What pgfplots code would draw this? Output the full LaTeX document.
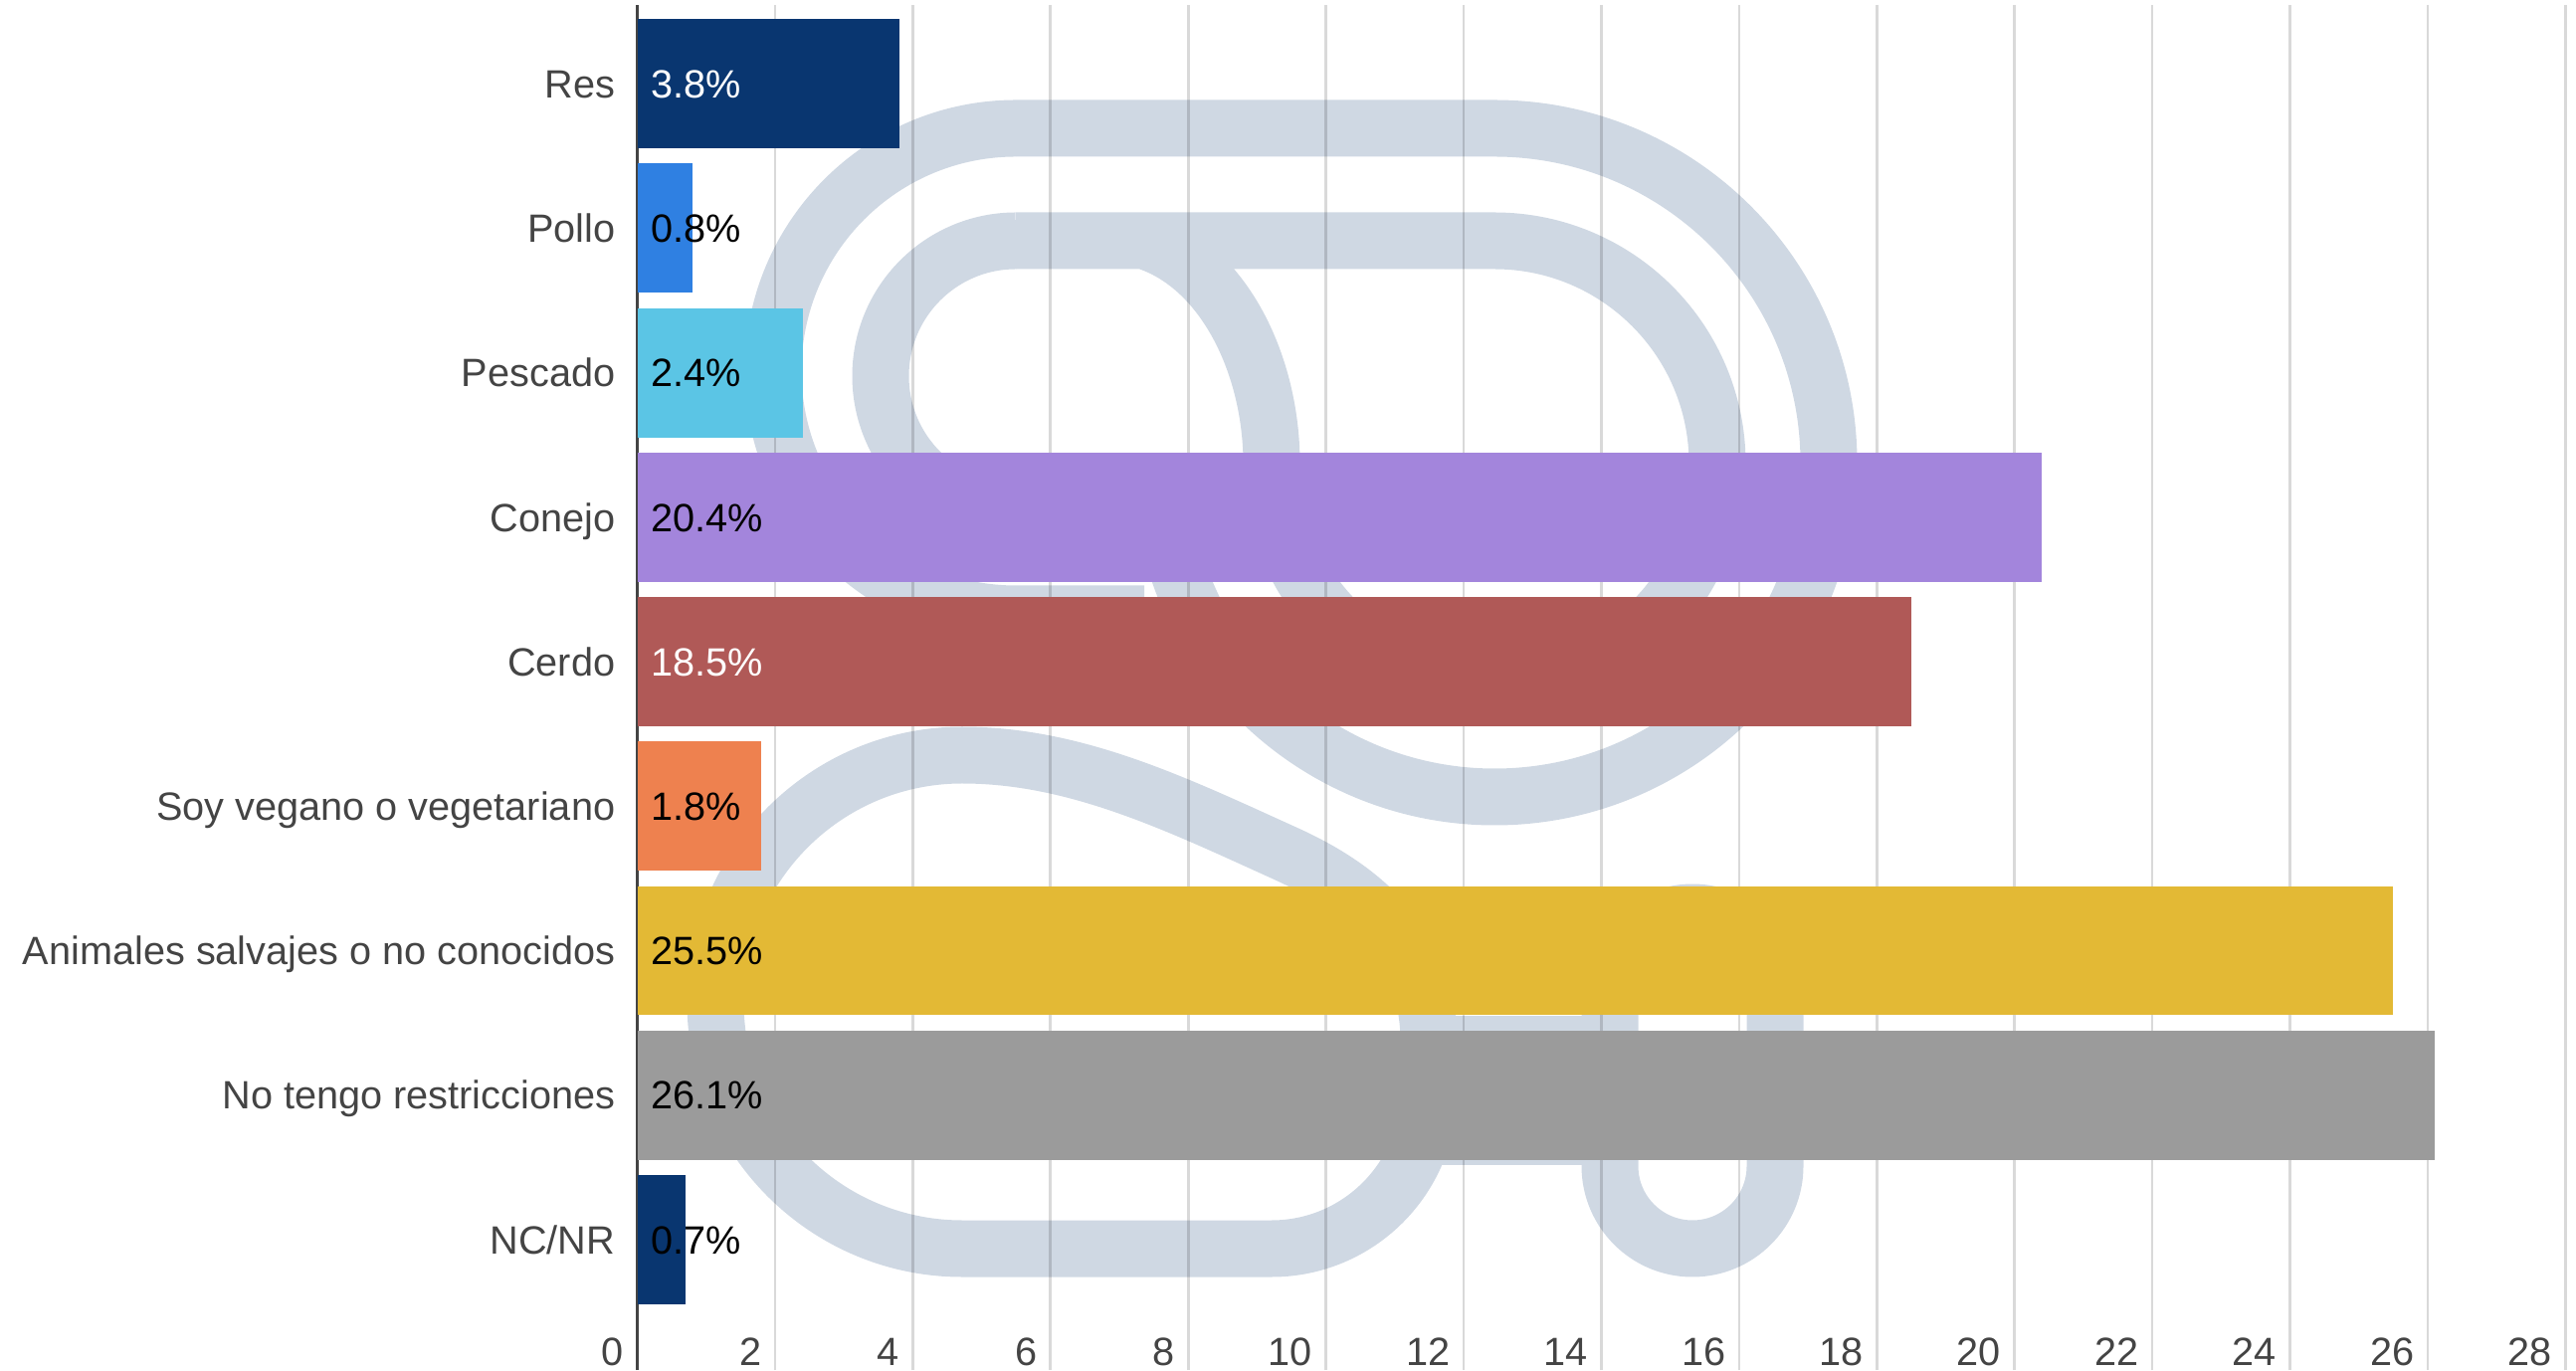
\documentclass[border=0pt]{standalone}
\usepackage{pgfplots}
\pgfplotsset{compat=1.18}
\usepackage{fontspec}
\setmainfont{Liberation Sans}
\definecolor{wm}{HTML}{CFD8E3}
\definecolor{navy}{HTML}{093670}
\definecolor{pollo}{HTML}{2F80E2}
\definecolor{pescado}{HTML}{5BC5E5}
\definecolor{conejo}{HTML}{A385DC}
\definecolor{cerdo}{HTML}{B05957}
\definecolor{soy}{HTML}{EE814F}
\definecolor{animales}{HTML}{E3B935}
\definecolor{notengo}{HTML}{9B9B9B}
\definecolor{labelgray}{HTML}{444444}
\newcommand{\lblfont}{\fontsize{11.9pt}{14pt}\selectfont}
\begin{document}
\begin{tikzpicture}
\useasboundingbox (-192.18pt,0pt) rectangle (584.52pt,413.1pt);
% watermark logo (background decoration)
\begin{scope}[shift={(-192.18pt,0pt)}, x=0.3pt, y=0.3pt, line width=17.1pt, draw=wm, fill=wm, line join=round]
  \draw (1021,1248) -- (1502,1248) arc[start angle=90, end angle=-165, radius=336]
        .. controls (1160,880) and (1080,863) .. (1021,863)
        arc[start angle=270, end angle=90, radius=136];
  \draw (1021,1135) -- (1502,1135) arc[start angle=90, end angle=-180, radius=224]
        .. controls (1278,1010) and (1230,1110) .. (1150,1135);
  \draw (1021,1248) arc[start angle=90, end angle=270, radius=244] -- (1150,760);
  \draw (967,618) arc[start angle=90, end angle=270, radius=248] -- (1278,122)
        arc[start angle=270, end angle=360, radius=158] -- (1436,330)
        .. controls (1436,420) and (1380,480) .. (1290,520)
        .. controls (1180,570) and (1080,618) .. (967,618);
  \draw (1618,205) -- (1618,377) arc[start angle=180, end angle=0, radius=83]
        -- (1784,205) arc[start angle=0, end angle=-180, radius=83] -- cycle;
  \fill (1436,206) rectangle (1618,356);
\end{scope}
\begin{axis}[
  at={(0pt,0pt)}, anchor=south west,
  scale only axis, width=581.3pt, height=411.6pt,
  xmin=0, xmax=28, ymin=-0.903, ymax=8.546,
  xbar, bar width=0.895, bar shift=0pt,
  axis line style={draw=none},
  xtick={2,4,...,28},
  extra x ticks={0},
  extra x tick style={grid=major, major grid style={draw=labelgray, line width=1pt, opacity=1}},
  xmajorgrids,
  major grid style={draw=black, opacity=0.15, line width=0.8pt},
  ytick={0,...,8},
  yticklabels={NC/NR, No tengo restricciones, Animales salvajes o no conocidos, Soy vegano o vegetariano, Cerdo, Conejo, Pescado, Pollo, Res},
  major tick length=0pt,
  tick style={draw=none},
  /pgf/number format/assume math mode=true,
  xticklabel style={anchor=base east, inner sep=0pt, xshift=-3.9pt, yshift=1.5pt, font=\lblfont, text=labelgray},
  yticklabel style={anchor=base east, inner sep=0pt, xshift=-6.5pt, yshift=-4.25pt, font=\lblfont, text=labelgray},
  clip=false,
]
\addplot[fill=navy, draw=none] coordinates {(3.8,8)};
\addplot[fill=pollo, draw=none] coordinates {(0.8,7)};
\addplot[fill=pescado, draw=none] coordinates {(2.4,6)};
\addplot[fill=conejo, draw=none] coordinates {(20.4,5)};
\addplot[fill=cerdo, draw=none] coordinates {(18.5,4)};
\addplot[fill=soy, draw=none] coordinates {(1.8,3)};
\addplot[fill=animales, draw=none] coordinates {(25.5,2)};
\addplot[fill=notengo, draw=none] coordinates {(26.1,1)};
\addplot[fill=navy, draw=none] coordinates {(0.7,0)};
% value labels
\addplot[draw=none, fill=none, nodes near coords, point meta=explicit symbolic,
  every node near coord/.append style={anchor=base west, inner sep=0pt, xshift=3.9pt, yshift=-4.25pt, font=\lblfont, text=white}]
  coordinates {(0,8) [3.8\%] (0,4) [18.5\%]};
\addplot[draw=none, fill=none, nodes near coords, point meta=explicit symbolic,
  every node near coord/.append style={anchor=base west, inner sep=0pt, xshift=3.9pt, yshift=-4.25pt, font=\lblfont, text=black}]
  coordinates {(0,7) [0.8\%] (0,6) [2.4\%] (0,5) [20.4\%] (0,3) [1.8\%] (0,2) [25.5\%] (0,1) [26.1\%] (0,0) [0.7\%]};
\end{axis}
\end{tikzpicture}
\end{document}
